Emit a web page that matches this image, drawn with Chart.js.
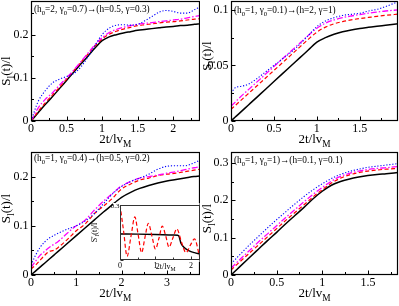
<!DOCTYPE html>
<html>
<head>
<meta charset="utf-8">
<script src="https://cdn.jsdelivr.net/npm/chart.js@4/dist/chart.umd.min.js"></script>
<style>
html, body { margin: 0; padding: 0; background: #fff; }
#wrap { position: relative; width: 399px; height: 306px; overflow: hidden; }
canvas { position: absolute; }
</style>
</head>
<body>
<div id="wrap">
<canvas id="c1" width="200" height="150" style="left:0;top:0"></canvas>
<canvas id="c2" width="200" height="150" style="left:199px;top:0"></canvas>
<canvas id="c3" width="200" height="156" style="left:0;top:150px"></canvas>
<canvas id="c4" width="200" height="156" style="left:199px;top:150px"></canvas>
<canvas id="c5" width="114" height="74" style="left:86px;top:200px"></canvas>
</div>
<script>
// panel 1: (h0=2, g0=0.7) -> (h=0.5, g=0.3)
var t1 = [0, 0.1, 0.2, 0.3, 0.4, 0.5, 0.6, 0.7, 0.8, 0.9, 1.0, 1.1, 1.2, 1.3, 1.4, 1.5, 1.6, 1.7, 1.8, 1.9, 2.0, 2.1, 2.2, 2.3, 2.37];
var p1Black = [0, 0.019, 0.038, 0.056, 0.075, 0.094, 0.113, 0.132, 0.150, 0.169, 0.186, 0.195, 0.200, 0.204, 0.207, 0.210, 0.212, 0.214, 0.216, 0.218, 0.219, 0.221, 0.222, 0.224, 0.225];
var p1Red = [0, 0.022, 0.042, 0.060, 0.078, 0.097, 0.116, 0.136, 0.155, 0.174, 0.190, 0.201, 0.208, 0.213, 0.217, 0.221, 0.223, 0.225, 0.227, 0.229, 0.230, 0.232, 0.234, 0.236, 0.237];
var p1Magenta = [0, 0.030, 0.050, 0.065, 0.083, 0.100, 0.118, 0.137, 0.157, 0.177, 0.193, 0.205, 0.212, 0.217, 0.221, 0.224, 0.226, 0.228, 0.230, 0.232, 0.234, 0.236, 0.239, 0.242, 0.244];
var p1Blue = [0, 0.045, 0.070, 0.088, 0.097, 0.103, 0.110, 0.125, 0.148, 0.175, 0.200, 0.215, 0.222, 0.223, 0.222, 0.224, 0.232, 0.242, 0.252, 0.256, 0.254, 0.250, 0.250, 0.258, 0.264];

// panel 2: (h0=1, g0=0.1) -> (h=2, g=1)
var t2 = [0, 0.05, 0.1, 0.2, 0.3, 0.4, 0.5, 0.6, 0.7, 0.8, 0.9, 1.0, 1.1, 1.2, 1.3, 1.4, 1.5, 1.6, 1.7, 1.8, 1.95];
var p2Black = [0, 0.0036, 0.0071, 0.0142, 0.0213, 0.0284, 0.0355, 0.0426, 0.0497, 0.0568, 0.0639, 0.0710, 0.0750, 0.0780, 0.0803, 0.0820, 0.0833, 0.0843, 0.0853, 0.0862, 0.0876];
var p2Red = [0.0105, 0.0140, 0.0175, 0.0245, 0.0315, 0.0385, 0.0455, 0.0525, 0.0595, 0.0665, 0.0735, 0.0800, 0.0845, 0.0875, 0.0895, 0.0910, 0.0922, 0.0932, 0.0942, 0.0951, 0.0962];
var p2Magenta = [0.0135, 0.0170, 0.0210, 0.0280, 0.0350, 0.0420, 0.0490, 0.0560, 0.0630, 0.0700, 0.0770, 0.0835, 0.0880, 0.0910, 0.0930, 0.0945, 0.0958, 0.0970, 0.0980, 0.0990, 0.1000];
var p2Blue = [0.025, 0.030, 0.031, 0.033, 0.038, 0.044, 0.050, 0.056, 0.062, 0.069, 0.077, 0.085, 0.090, 0.093, 0.095, 0.096, 0.097, 0.099, 0.1005, 0.103, 0.1075];

// panel 3: (h0=1, g0=0.4) -> (h=0.5, g=0.2)
var t3 = [0, 0.1, 0.2, 0.3, 0.4, 0.5, 0.6, 0.8, 1.0, 1.2, 1.4, 1.6, 1.8, 1.9, 2.0, 2.2, 2.4, 2.6, 2.8, 3.0, 3.2, 3.4, 3.6, 3.72];
var p3Black = [0, 0.008, 0.016, 0.024, 0.032, 0.040, 0.048, 0.064, 0.080, 0.096, 0.112, 0.128, 0.143, 0.151, 0.158, 0.168, 0.176, 0.182, 0.187, 0.191, 0.194, 0.197, 0.200, 0.201];
var p3Red = [0.012, 0.020, 0.030, 0.040, 0.048, 0.050, 0.056, 0.072, 0.090, 0.104, 0.125, 0.140, 0.156, 0.166, 0.175, 0.185, 0.193, 0.197, 0.202, 0.205, 0.207, 0.210, 0.213, 0.215];
var p3Magenta = [0.015, 0.028, 0.040, 0.048, 0.056, 0.062, 0.068, 0.085, 0.100, 0.112, 0.132, 0.150, 0.166, 0.174, 0.181, 0.190, 0.197, 0.200, 0.203, 0.207, 0.210, 0.214, 0.218, 0.220];
var p3Blue = [0.020, 0.040, 0.056, 0.067, 0.075, 0.080, 0.085, 0.093, 0.100, 0.110, 0.125, 0.145, 0.165, 0.173, 0.180, 0.190, 0.197, 0.205, 0.215, 0.221, 0.222, 0.222, 0.228, 0.233];

// panel 4: (h0=1, g0=1) -> (h=0.1, g=0.1)
var t4 = [0, 0.1, 0.2, 0.3, 0.4, 0.5, 0.6, 0.7, 0.8, 0.9, 1.0, 1.1, 1.2, 1.3, 1.4, 1.5, 1.6, 1.7, 1.83];
var p4Black = [0, 0.023, 0.046, 0.069, 0.092, 0.114, 0.137, 0.159, 0.181, 0.204, 0.224, 0.240, 0.250, 0.257, 0.262, 0.266, 0.269, 0.271, 0.274];
var p4Red = [0.013, 0.036, 0.058, 0.080, 0.102, 0.124, 0.146, 0.167, 0.188, 0.209, 0.228, 0.246, 0.259, 0.268, 0.274, 0.278, 0.281, 0.283, 0.285];
var p4Magenta = [0.018, 0.042, 0.065, 0.088, 0.110, 0.132, 0.154, 0.175, 0.196, 0.216, 0.234, 0.251, 0.264, 0.272, 0.278, 0.282, 0.285, 0.287, 0.290];
var p4Blue = [0.030, 0.055, 0.080, 0.103, 0.126, 0.148, 0.169, 0.190, 0.210, 0.228, 0.244, 0.258, 0.269, 0.277, 0.283, 0.288, 0.291, 0.294, 0.298];

// inset of panel 3: derivative S'_l(t)/l
var tInRed = [0, 0.1, 0.2, 0.31, 0.42, 0.51, 0.61, 0.7, 0.8, 0.9, 1.0, 1.1, 1.19, 1.29, 1.38, 1.49, 1.6, 1.73, 1.86, 1.98, 2.1, 2.24];
var inRed = [0.3, 0.16, 0.02, 0.13, 0.235, 0.14, 0.04, 0.12, 0.2, 0.13, 0.06, 0.12, 0.185, 0.13, 0.07, 0.12, 0.17, 0.1, 0.04, 0.08, 0.115, 0.02];
var tInBlack = [0, 0.5, 1.0, 1.5, 1.62, 1.66, 1.72, 1.8, 1.95, 2.1, 2.24];
var inBlack = [0.142, 0.141, 0.139, 0.136, 0.135, 0.13, 0.09, 0.07, 0.05, 0.04, 0.033];

var SERIF = '"Liberation Serif", "DejaVu Serif", serif';

function pts(xs, ys) {
    return xs.map(function(x, i) { return { x: x, y: ys[i] }; });
}

function fmt(v) { return String(+v.toFixed(3)); }

// draws text pieces, pieces marked 'sub' are smaller and lowered
function drawRich(ctx, parts, x, y, size, align) {
    var w = 0;
    parts.forEach(function(p) {
        ctx.font = (p[1] ? size * 0.72 : size) + 'px ' + SERIF;
        w += ctx.measureText(p[0]).width;
    });
    var cx = align === 'left' ? x : x - w / 2;
    ctx.textAlign = 'left';
    ctx.textBaseline = 'middle';
    ctx.fillStyle = '#000';
    parts.forEach(function(p) {
        ctx.font = (p[1] ? size * 0.72 : size) + 'px ' + SERIF;
        ctx.fillText(p[0], cx, y + (p[1] ? size * 0.32 : 0));
        cx += ctx.measureText(p[0]).width;
    });
}

function isStep(v, step) {
    return Math.abs(v / step - Math.round(v / step)) < 1e-6;
}

// frame, inward ticks, tick labels, axis titles and the panel note
var decor = {
    id: 'decor',
    beforeDraw: function(chart, args, o) {
        if (!o.whiteBox) return;
        var a = chart.chartArea, ctx = chart.ctx;
        ctx.save();
        ctx.fillStyle = '#fff';
        ctx.fillRect(a.left - 7, a.top - 2, a.right - a.left + 7, a.bottom - a.top + 4);
        ctx.restore();
    },
    afterDatasetsDraw: function(chart, args, o) {
        var ctx = chart.ctx, a = chart.chartArea;
        var xs = chart.scales.x, ys = chart.scales.y;
        ctx.save();
        ctx.strokeStyle = o.frameColor || '#000';
        ctx.lineWidth = 1;
        var L = Math.round(a.left) + 0.5, R = Math.round(a.right) - 0.5;
        var T = Math.round(a.top) + 0.5, B = Math.round(a.bottom) - 0.5;
        var major = o.major || 4, minor = o.minor || 2.5;
        var xLab = [], yLab = [];
        ctx.beginPath();
        var i, v, px;
        for (i = 0; (v = i * o.xMinor) <= xs.max + 1e-9; i++) {
            px = Math.round(xs.getPixelForValue(v)) + 0.5;
            if (isStep(v, o.xMajor)) xLab.push(v);
            ctx.moveTo(px, B);
            ctx.lineTo(px, B - (isStep(v, o.xMajor) ? major : minor));
        }
        for (i = 0; (v = i * o.yMinor) <= ys.max + 1e-9; i++) {
            px = Math.round(ys.getPixelForValue(v)) + 0.5;
            if (isStep(v, o.yMajor)) yLab.push(v);
            ctx.moveTo(L, px);
            ctx.lineTo(L + (isStep(v, o.yMajor) ? major : minor), px);
        }
        ctx.stroke();
        ctx.lineWidth = o.frameWidth || 1.2;
        ctx.strokeRect(L, T, R - L, B - T);

        ctx.fillStyle = '#000';
        ctx.font = o.labelSize + 'px ' + SERIF;
        ctx.textAlign = 'center';
        ctx.textBaseline = 'top';
        xLab.forEach(function(val) {
            ctx.fillText(fmt(val), xs.getPixelForValue(val), B + o.xLabelDy);
        });
        ctx.font = (o.yLabelSize || o.labelSize) + 'px ' + SERIF;
        ctx.textAlign = 'right';
        ctx.textBaseline = 'middle';
        yLab.forEach(function(val) {
            if (o.skipZeroY && val === 0) return;
            ctx.fillText(fmt(val), L - o.yLabelDx, ys.getPixelForValue(val) + (o.yLabelDy || 0));
        });
        ctx.restore();
    },
    afterDraw: function(chart, args, o) {
        var ctx = chart.ctx, a = chart.chartArea;
        ctx.save();
        if (o.xTitle) drawRich(ctx, o.xTitle, (a.left + a.right) / 2 + (o.xTitleDx || 0), a.bottom + o.xTitleDy, o.titleSize, 'center');
        if (o.yTitle) {
            ctx.save();
            ctx.translate(o.yTitleX, (a.top + a.bottom) / 2 + (o.yTitleDy || 0));
            ctx.rotate(-Math.PI / 2);
            drawRich(ctx, o.yTitle, 0, 0, o.titleSize, 'center');
            ctx.restore();
        }
        if (o.note) drawRich(ctx, o.note, a.left + 3, a.top + o.noteDy, 9.3, 'left');
        ctx.restore();
    }
};
Chart.register(decor);

var xTitle = [['2t/lv'], ['M', 'sub']];
var yTitle = [['S'], ['l', 'sub'], ['(t)/l']];

function fixBox(size) {
    return function(s) {
        if (s.isHorizontal()) s.height = size; else s.width = size;
        s.paddingTop = 0; s.paddingBottom = 0; s.paddingLeft = 0; s.paddingRight = 0;
    };
}

function axis(max, step, box) {
    return {
        type: 'linear', min: 0, max: max,
        grid: { display: false, drawTicks: false }, border: { display: false },
        ticks: { display: false, stepSize: step, includeBounds: false, autoSkip: false },
        afterFit: fixBox(box)
    };
}

function makePanel(id, t, black, red, magenta, blue, xMax, yMax, xStep, yStep, xMinor, yMinor, yAxisW, xAxisH, pad, note, yTitleX, yTitleDy, noteDy) {
    return new Chart(document.getElementById(id).getContext('2d'), {
        type: 'line',
        data: {
            datasets: [
                { data: pts(t, blue), borderColor: '#0000ff', borderWidth: 1.1, borderDash: [1.2, 1.8] },
                { data: pts(t, magenta), borderColor: '#ff00ff', borderWidth: 1.3, borderDash: [6, 2, 1.5, 2] },
                { data: pts(t, red), borderColor: '#ff0000', borderWidth: 1.2, borderDash: [4, 2.5] },
                { data: pts(t, black), borderColor: '#000000', borderWidth: 1.5 }
            ]
        },
        options: {
            responsive: false,
            animation: false,
            devicePixelRatio: 1,
            layout: { padding: pad },
            elements: { point: { radius: 0 }, line: { cubicInterpolationMode: 'monotone' } },
            plugins: {
                legend: { display: false },
                tooltip: { enabled: false },
                decor: {
                    xMajor: xStep, yMajor: yStep, xMinor: xMinor, yMinor: yMinor,
                    labelSize: 12, xLabelDy: 2, yLabelDx: 3,
                    xTitle: xTitle, yTitle: yTitle, titleSize: 13, xTitleDy: 19,
                    yTitleX: yTitleX, yTitleDy: yTitleDy, note: note, noteDy: noteDy
                }
            },
            scales: {
                x: axis(xMax, xStep, xAxisH),
                y: axis(yMax, yStep, yAxisW)
            }
        }
    });
}

makePanel('c1', t1, p1Black, p1Red, p1Magenta, p1Blue, 2.37, 0.278, 0.5, 0.1, 0.25, 0.05, 31, 29,
    { top: 1, right: 0.5, left: 0, bottom: 0 },
    [['(h'], ['0', 'sub'], ['=2, \u03b3'], ['0', 'sub'], ['=0.7)\u2192(h=0.5, \u03b3=0.3)']], 7, 10, 9);
makePanel('c2', t2, p2Black, p2Red, p2Magenta, p2Blue, 1.945, 0.108, 0.5, 0.05, 0.25, 0.025, 32, 29,
    { top: 1, right: 1, left: 0, bottom: 0 },
    [['(h'], ['0', 'sub'], ['=1, \u03b3'], ['0', 'sub'], ['=0.1)\u2192(h=2, \u03b3=1)']], 9, -5, 10);
makePanel('c3', t3, p3Black, p3Red, p3Magenta, p3Blue, 3.72, 0.25, 1, 0.1, 0.5, 0.05, 31, 31,
    { top: 2, right: 0.5, left: 0, bottom: 0 },
    [['(h'], ['0', 'sub'], ['=1, \u03b3'], ['0', 'sub'], ['=0.4)\u2192(h=0.5, \u03b3=0.2)']], 7, -5, 7);
makePanel('c4', t4, p4Black, p4Red, p4Magenta, p4Blue, 1.83, 0.329, 0.5, 0.1, 0.25, 0.05, 32, 31,
    { top: 2, right: 1, left: 0, bottom: 0 },
    [['(h'], ['0', 'sub'], ['=1, \u03b3'], ['0', 'sub'], ['=1)\u2192(h=0.1, \u03b3=0.1)']], 9, 5, 9);

// inset
new Chart(document.getElementById('c5').getContext('2d'), {
    type: 'line',
    data: {
        datasets: [
            { data: pts(tInRed, inRed), borderColor: '#ff0000', borderWidth: 1.2, borderDash: [4, 2.5] },
            { data: pts(tInBlack, inBlack), borderColor: '#000000', borderWidth: 1.4 }
        ]
    },
    options: {
        responsive: false,
        animation: false,
        devicePixelRatio: 1,
        layout: { padding: { top: 5, right: 0.5, left: 0, bottom: 0 } },
        elements: { point: { radius: 0 }, line: { cubicInterpolationMode: 'monotone' } },
        plugins: {
            legend: { display: false },
            tooltip: { enabled: false },
            decor: {
                whiteBox: true, frameColor: '#333', frameWidth: 1,
                xMajor: 1, yMajor: 0.3, xMinor: 0.5, yMinor: 0.15, major: 3, minor: 2,
                labelSize: 8, yLabelSize: 7, xLabelDy: 2, yLabelDx: 1, yLabelDy: 1, skipZeroY: true,
                xTitle: xTitle, xTitleDx: 6, xTitleDy: 7, titleSize: 8,
                yTitle: [["S'"], ['l', 'sub'], ['(t)/l']], yTitleX: 9, yTitleDy: 0
            }
        },
        scales: {
            x: axis(2.24, 1, 14),
            y: axis(0.3, 0.3, 34)
        }
    }
});
</script>
</body>
</html>
